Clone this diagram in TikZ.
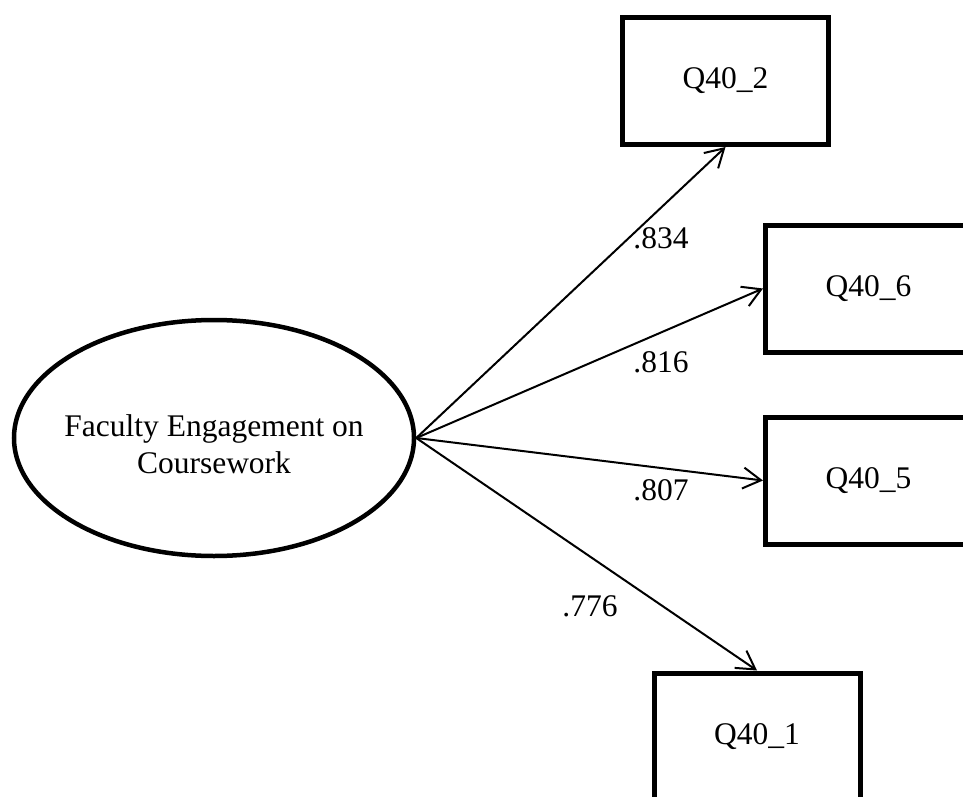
\documentclass[tikz,border=0pt]{standalone}
\usepackage{fontspec}
\setmainfont{Liberation Serif}
\usetikzlibrary{shapes.geometric,arrows.meta}
\begin{document}
\begin{tikzpicture}[x=1pt,y=-1pt,
  every node/.style={font=\fontsize{31.5}{37}\selectfont},
  obsbox/.style={draw,rectangle,line width=5pt,minimum width=206pt,minimum height=127pt,inner sep=0pt},
  latent/.style={draw,ellipse,line width=4.5pt,minimum width=400pt,minimum height=236pt,inner sep=0pt},
  loading/.style={line width=2pt,-{Straight Barb[length=18pt,width=21pt,line width=2pt]}},
  coef/.style={inner sep=0pt}]
  \useasboundingbox (0,0) rectangle (963,797);
  \clip (0,0) rectangle (963,797);

  % latent factor
  \node[latent] (f) at (214,438) {};
  \node[align=center,inner sep=0pt] (ftext) at (214,444) {Faculty Engagement on\\Coursework};

  % observed indicators
  \node[obsbox] (q2) at (725.5,81) {Q40\_2};
  \node[obsbox] (q6) at (868.5,288.5) {Q40\_6};
  \node[obsbox] (q5) at (868.5,480.5) {Q40\_5};
  \node[obsbox] (q1) at (757,736.5) {Q40\_1};

  % factor loadings
  \draw[loading] (f.east) -- (q2.south);
  \draw[loading] (f.east) -- (q6.west);
  \draw[loading] (f.east) -- (q5.west);
  \draw[loading] (f.east) -- (q1.north);

  \node[coef] (l2) at (661,238) {.834};
  \node[coef] (l6) at (661,362) {.816};
  \node[coef] (l5) at (661,490) {.807};
  \node[coef] (l1) at (590,606) {.776};
\end{tikzpicture}
\end{document}
